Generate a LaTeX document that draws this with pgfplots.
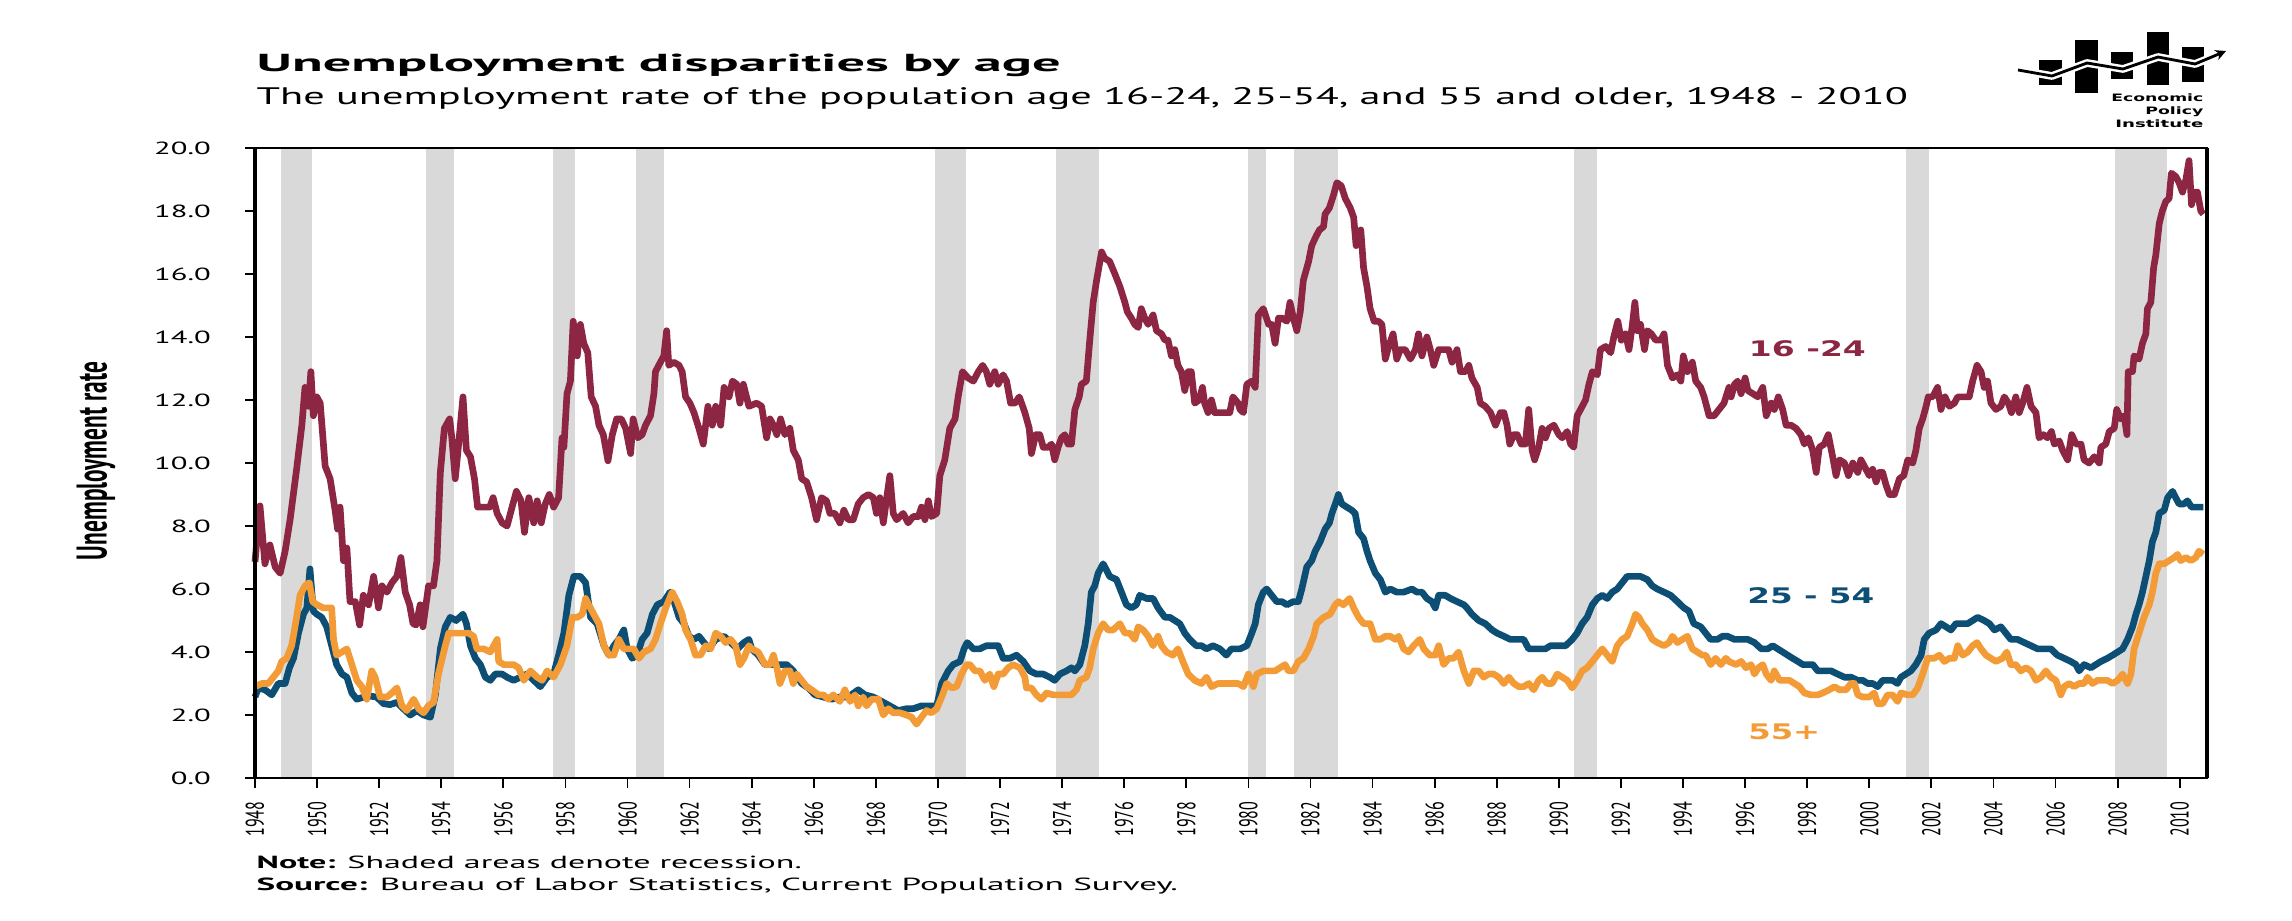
\documentclass[border=0pt]{standalone}
\usepackage{pgfplots}
\pgfplotsset{compat=1.18}
\usepackage{pgfplotstable}
\usetikzlibrary{arrows.meta}
\usepackage{fontspec}
\usepackage{graphicx}
\setmainfont{PT Sans}
\newfontfamily\dejavu{DejaVu Sans}
\definecolor{youth}{RGB}{140,38,66}
\definecolor{prime}{RGB}{12,78,116}
\definecolor{older}{RGB}{243,156,55}
\definecolor{recgray}{RGB}{217,217,217}
\newcommand\wide[2]{\resizebox{#1}{\height}{#2}}

\pgfplotstableread{
year val
1948.00 6.86
1948.16 8.64
1948.32 6.8
1948.48 7.4
1948.65 6.7
1948.81 6.5
1948.97 7.2
1949.13 8.2
1949.34 9.8
1949.51 11.2
1949.61 12.4
1949.72 11.8
1949.80 12.9
1949.88 11.5
1949.99 12.1
1950.10 11.9
1950.26 9.9
1950.42 9.5
1950.58 8.5
1950.66 7.9
1950.74 8.6
1950.85 6.9
1950.96 7.3
1951.06 5.6
1951.23 5.6
1951.37 4.86
1951.49 5.8
1951.66 5.5
1951.82 6.4
1951.98 5.4
1952.09 6.1
1952.25 5.9
1952.41 6.2
1952.57 6.4
1952.70 7.0
1952.84 5.9
1952.98 5.5
1953.09 4.9
1953.19 4.86
1953.32 5.5
1953.41 4.8
1953.59 6.1
1953.75 6.1
1953.86 6.9
1953.97 9.7
1954.10 11.1
1954.27 11.4
1954.34 10.8
1954.45 9.5
1954.56 10.6
1954.70 12.1
1954.81 10.4
1954.94 10.2
1955.07 9.5
1955.17 8.6
1955.37 8.6
1955.56 8.6
1955.67 8.9
1955.80 8.4
1955.96 8.1
1956.12 8.0
1956.28 8.6
1956.42 9.1
1956.57 8.8
1956.68 7.8
1956.82 8.9
1956.98 8.1
1957.09 8.8
1957.22 8.1
1957.35 8.7
1957.48 9.0
1957.62 8.6
1957.78 8.9
1957.89 10.8
1957.95 10.5
1958.05 12.2
1958.16 12.6
1958.25 14.5
1958.38 13.4
1958.48 14.4
1958.59 13.8
1958.72 13.5
1958.83 12.1
1958.97 11.8
1959.08 11.2
1959.22 10.9
1959.37 10.07
1959.51 10.9
1959.65 11.4
1959.80 11.4
1959.94 11.1
1960.10 10.3
1960.18 11.4
1960.33 10.8
1960.47 10.9
1960.58 11.2
1960.74 11.5
1960.85 12.2
1960.90 12.9
1961.06 13.2
1961.17 13.4
1961.26 14.2
1961.33 13.1
1961.49 13.2
1961.66 13.1
1961.76 12.9
1961.87 12.1
1962.01 11.9
1962.14 11.6
1962.30 11.1
1962.44 10.6
1962.59 11.8
1962.73 11.2
1962.84 11.8
1963.00 11.2
1963.11 12.4
1963.27 12.1
1963.38 12.6
1963.52 12.5
1963.62 11.9
1963.73 12.5
1963.91 11.8
1964.16 11.9
1964.32 11.8
1964.48 10.8
1964.59 11.4
1964.70 11.2
1964.81 10.9
1964.93 11.4
1965.07 10.9
1965.23 11.1
1965.34 10.4
1965.50 10.1
1965.61 9.5
1965.77 9.4
1965.93 8.9
1966.09 8.2
1966.25 8.9
1966.41 8.8
1966.52 8.4
1966.68 8.4
1966.84 8.1
1966.97 8.5
1967.11 8.2
1967.27 8.2
1967.43 8.7
1967.59 8.9
1967.76 9.0
1967.92 8.9
1968.02 8.4
1968.13 8.9
1968.24 8.1
1968.35 8.9
1968.45 9.6
1968.56 8.4
1968.67 8.2
1968.88 8.4
1969.04 8.1
1969.20 8.3
1969.37 8.3
1969.47 8.6
1969.58 8.2
1969.69 8.8
1969.79 8.3
1969.96 8.4
1970.06 9.6
1970.22 10.1
1970.38 11.1
1970.55 11.4
1970.65 12.1
1970.79 12.9
1970.97 12.7
1971.14 12.6
1971.30 12.9
1971.44 13.1
1971.56 12.9
1971.67 12.5
1971.83 12.9
1971.94 12.5
1972.10 12.8
1972.21 12.6
1972.34 11.9
1972.48 11.9
1972.62 12.1
1972.80 11.6
1972.94 11.1
1973.01 10.3
1973.15 10.9
1973.28 10.9
1973.39 10.5
1973.55 10.5
1973.66 10.6
1973.76 10.1
1973.87 10.5
1973.98 10.8
1974.09 10.9
1974.19 10.6
1974.30 10.6
1974.41 11.7
1974.55 12.1
1974.62 12.5
1974.78 12.6
1974.89 13.9
1975.00 15.1
1975.11 15.8
1975.27 16.7
1975.37 16.5
1975.53 16.4
1975.70 16.0
1975.86 15.6
1976.02 15.1
1976.10 14.8
1976.23 14.6
1976.34 14.4
1976.45 14.3
1976.55 14.9
1976.66 14.6
1976.77 14.4
1976.93 14.7
1977.04 14.2
1977.20 14.1
1977.31 13.9
1977.41 13.9
1977.52 13.4
1977.63 13.6
1977.73 13.1
1977.84 12.9
1977.95 12.3
1978.06 12.9
1978.16 12.9
1978.27 11.9
1978.41 12.0
1978.52 12.4
1978.59 11.9
1978.70 11.6
1978.81 12.0
1978.91 11.6
1979.08 11.6
1979.24 11.6
1979.40 11.6
1979.50 12.1
1979.67 11.9
1979.73 11.7
1979.84 11.6
1979.95 12.5
1980.11 12.6
1980.22 12.4
1980.32 14.7
1980.48 14.9
1980.65 14.4
1980.75 14.4
1980.86 13.8
1980.97 14.6
1981.08 14.6
1981.24 14.5
1981.34 15.1
1981.45 14.6
1981.56 14.2
1981.67 14.8
1981.77 15.8
1981.94 16.4
1982.04 16.9
1982.18 17.2
1982.29 17.4
1982.42 17.5
1982.47 17.9
1982.61 18.1
1982.74 18.5
1982.85 18.9
1982.99 18.8
1983.12 18.4
1983.28 18.1
1983.39 17.8
1983.47 16.9
1983.62 17.4
1983.71 16.2
1983.82 15.6
1983.92 14.9
1984.05 14.5
1984.19 14.5
1984.30 14.4
1984.41 13.3
1984.52 13.7
1984.66 14.1
1984.78 13.3
1984.89 13.6
1985.05 13.6
1985.22 13.3
1985.38 13.6
1985.48 14.1
1985.59 13.4
1985.75 14.0
1985.86 13.6
1985.97 13.1
1986.13 13.6
1986.29 13.6
1986.45 13.6
1986.56 13.2
1986.72 13.6
1986.83 12.9
1986.99 12.9
1987.10 13.1
1987.20 12.7
1987.37 12.4
1987.47 11.9
1987.63 11.8
1987.80 11.6
1987.96 11.2
1988.12 11.6
1988.23 11.6
1988.33 11.2
1988.42 10.6
1988.55 10.9
1988.66 10.9
1988.79 10.6
1988.92 10.6
1989.03 11.7
1989.14 10.4
1989.22 10.1
1989.35 10.5
1989.46 11.1
1989.57 10.8
1989.68 11.1
1989.84 11.2
1990.00 10.9
1990.11 10.8
1990.27 11.0
1990.38 10.6
1990.48 10.5
1990.59 11.5
1990.70 11.7
1990.86 12.0
1990.97 12.5
1991.08 12.9
1991.24 12.8
1991.34 13.6
1991.51 13.7
1991.67 13.5
1991.77 14.0
1991.90 14.5
1992.01 13.9
1992.15 14.1
1992.26 13.6
1992.37 14.4
1992.45 15.1
1992.53 14.2
1992.63 14.4
1992.76 13.6
1992.85 14.2
1992.98 14.1
1993.12 13.9
1993.28 13.9
1993.39 14.1
1993.50 13.1
1993.66 12.7
1993.82 12.8
1993.93 12.6
1994.01 13.4
1994.14 12.9
1994.30 13.2
1994.41 12.6
1994.57 12.4
1994.68 12.1
1994.84 11.5
1995.00 11.5
1995.16 11.7
1995.32 11.9
1995.48 12.4
1995.55 12.1
1995.66 12.5
1995.76 12.6
1995.87 12.2
1996.00 12.7
1996.09 12.3
1996.25 12.2
1996.41 12.1
1996.57 12.4
1996.68 11.5
1996.84 11.9
1996.94 11.7
1997.07 12.1
1997.21 11.7
1997.32 11.2
1997.48 11.2
1997.64 11.1
1997.80 10.9
1997.91 10.6
1998.04 10.8
1998.18 10.4
1998.29 9.7
1998.39 10.5
1998.55 10.6
1998.68 10.9
1998.82 10.2
1998.93 9.6
1999.04 10.1
1999.20 10.0
1999.33 9.6
1999.47 10.0
1999.63 9.7
1999.73 10.1
1999.84 9.9
2000.00 9.6
2000.11 9.8
2000.22 9.4
2000.32 9.7
2000.43 9.7
2000.54 9.3
2000.65 9.0
2000.81 9.0
2000.97 9.5
2001.11 9.6
2001.24 10.1
2001.40 10.0
2001.50 10.4
2001.61 11.1
2001.72 11.4
2001.83 11.8
2001.90 12.1
2002.04 12.1
2002.20 12.4
2002.31 11.7
2002.44 12.1
2002.58 11.8
2002.74 11.9
2002.85 12.1
2003.01 12.1
2003.22 12.1
2003.33 12.6
2003.47 13.1
2003.60 12.9
2003.70 12.4
2003.81 12.6
2003.92 11.9
2004.08 11.7
2004.24 11.8
2004.35 12.1
2004.48 11.9
2004.58 11.6
2004.72 12.1
2004.83 11.6
2004.94 11.9
2005.08 12.4
2005.21 11.8
2005.37 11.6
2005.47 10.8
2005.61 10.9
2005.74 10.8
2005.87 11.0
2005.96 10.6
2006.12 10.7
2006.23 10.4
2006.39 10.1
2006.52 10.9
2006.66 10.6
2006.82 10.6
2006.92 10.1
2007.08 10.0
2007.25 10.2
2007.41 10.0
2007.46 10.5
2007.62 10.6
2007.73 11.0
2007.89 11.1
2007.97 11.7
2008.10 11.4
2008.21 11.5
2008.30 10.9
2008.34 12.9
2008.48 12.9
2008.53 13.4
2008.69 13.3
2008.80 13.8
2008.91 14.1
2008.96 14.9
2009.07 15.1
2009.16 16.2
2009.23 16.6
2009.34 17.6
2009.44 18.0
2009.55 18.3
2009.66 18.4
2009.73 19.2
2009.87 19.1
2009.98 18.9
2010.09 18.6
2010.20 19.0
2010.30 19.6
2010.38 18.2
2010.46 18.6
2010.57 18.6
2010.68 18.0
2010.76 17.9
}\youthtab

\pgfplotstableread{
year val
1948.00 2.57
1948.11 2.86
1948.32 2.8
1948.54 2.64
1948.75 3.0
1948.97 3.0
1949.11 3.5
1949.24 3.8
1949.40 4.6
1949.56 5.2
1949.67 5.4
1949.77 6.64
1949.88 5.3
1949.99 5.2
1950.15 5.1
1950.31 4.8
1950.47 4.2
1950.63 3.6
1950.80 3.3
1950.96 3.2
1951.12 2.7
1951.28 2.5
1951.50 2.57
1951.71 2.6
1951.92 2.57
1952.14 2.36
1952.35 2.33
1952.57 2.4
1952.78 2.2
1953.00 2.0
1953.22 2.14
1953.43 2.0
1953.65 1.93
1953.81 2.64
1953.97 4.1
1954.13 4.8
1954.29 5.1
1954.48 5.0
1954.70 5.2
1954.81 4.9
1954.94 4.2
1955.10 3.8
1955.26 3.6
1955.42 3.2
1955.58 3.1
1955.74 3.3
1955.96 3.3
1956.12 3.2
1956.33 3.1
1956.55 3.2
1956.76 3.3
1956.98 3.1
1957.19 2.9
1957.41 3.2
1957.62 3.3
1957.78 3.9
1957.95 4.6
1958.11 5.8
1958.27 6.4
1958.48 6.4
1958.65 6.2
1958.81 5.1
1959.02 4.9
1959.24 4.2
1959.40 3.9
1959.56 4.2
1959.72 4.4
1959.88 4.7
1959.99 4.1
1960.15 3.8
1960.31 3.9
1960.47 4.4
1960.63 4.6
1960.80 5.2
1960.96 5.5
1961.17 5.6
1961.37 5.9
1961.50 5.6
1961.66 5.1
1961.82 4.9
1961.98 4.5
1962.14 4.4
1962.30 4.5
1962.46 4.3
1962.62 4.1
1962.84 4.4
1963.11 4.5
1963.32 4.3
1963.54 4.1
1963.75 4.3
1963.91 4.4
1964.00 4.1
1964.21 3.9
1964.43 3.6
1964.64 3.6
1964.86 3.6
1965.13 3.6
1965.34 3.4
1965.61 3.0
1965.82 2.86
1966.04 2.64
1966.31 2.57
1966.58 2.5
1966.84 2.57
1967.11 2.57
1967.43 2.8
1967.65 2.64
1967.92 2.57
1968.19 2.43
1968.45 2.29
1968.72 2.14
1968.99 2.2
1969.20 2.2
1969.47 2.29
1969.79 2.29
1969.96 2.29
1970.12 3.0
1970.33 3.4
1970.49 3.6
1970.71 3.7
1970.84 4.1
1970.94 4.3
1971.14 4.1
1971.35 4.1
1971.56 4.2
1971.78 4.2
1971.94 4.2
1972.10 3.8
1972.32 3.8
1972.53 3.9
1972.75 3.7
1972.96 3.4
1973.17 3.3
1973.39 3.3
1973.60 3.2
1973.76 3.1
1973.93 3.3
1974.14 3.4
1974.30 3.5
1974.41 3.4
1974.57 3.6
1974.73 4.2
1974.84 4.9
1974.94 5.9
1975.05 6.1
1975.16 6.5
1975.32 6.8
1975.43 6.6
1975.53 6.4
1975.75 6.3
1975.91 5.9
1976.07 5.5
1976.23 5.4
1976.39 5.5
1976.50 5.8
1976.72 5.7
1976.93 5.7
1977.09 5.4
1977.31 5.1
1977.47 5.1
1977.63 5.0
1977.79 4.9
1977.95 4.6
1978.11 4.4
1978.32 4.2
1978.49 4.2
1978.65 4.1
1978.86 4.2
1979.08 4.1
1979.29 3.9
1979.45 4.1
1979.67 4.1
1979.73 4.1
1979.95 4.2
1980.11 4.6
1980.22 4.9
1980.32 5.5
1980.48 5.9
1980.59 6.0
1980.75 5.8
1980.91 5.6
1981.08 5.6
1981.24 5.5
1981.45 5.6
1981.61 5.6
1981.72 6.0
1981.88 6.7
1982.04 6.9
1982.15 7.2
1982.31 7.5
1982.47 7.9
1982.61 8.1
1982.69 8.4
1982.80 8.7
1982.90 9.0
1983.01 8.7
1983.17 8.6
1983.33 8.5
1983.44 8.4
1983.55 7.8
1983.71 7.6
1983.82 7.2
1983.92 6.9
1984.09 6.5
1984.25 6.3
1984.41 5.9
1984.57 6.0
1984.78 5.9
1985.00 5.9
1985.27 6.0
1985.43 5.9
1985.59 5.9
1985.75 5.7
1985.91 5.6
1986.02 5.4
1986.13 5.8
1986.34 5.8
1986.51 5.7
1986.72 5.6
1986.94 5.5
1987.04 5.4
1987.20 5.2
1987.42 5.0
1987.63 4.9
1987.85 4.7
1988.01 4.6
1988.23 4.5
1988.44 4.4
1988.66 4.4
1988.87 4.4
1989.03 4.1
1989.19 4.1
1989.41 4.1
1989.57 4.1
1989.73 4.2
1990.00 4.2
1990.22 4.2
1990.43 4.4
1990.59 4.6
1990.75 4.9
1990.91 5.1
1991.08 5.5
1991.24 5.7
1991.40 5.8
1991.56 5.7
1991.72 5.9
1991.88 6.0
1992.04 6.2
1992.20 6.4
1992.42 6.4
1992.63 6.4
1992.85 6.3
1993.01 6.1
1993.17 6.0
1993.39 5.9
1993.60 5.8
1993.82 5.6
1994.03 5.4
1994.19 5.3
1994.35 4.9
1994.57 4.8
1994.73 4.6
1994.89 4.4
1995.11 4.4
1995.27 4.5
1995.43 4.5
1995.66 4.4
1995.87 4.4
1996.09 4.4
1996.30 4.3
1996.52 4.1
1996.73 4.1
1996.89 4.2
1997.05 4.1
1997.21 4.0
1997.37 3.9
1997.53 3.8
1997.70 3.7
1997.86 3.6
1998.02 3.6
1998.18 3.6
1998.34 3.4
1998.55 3.4
1998.77 3.4
1998.98 3.3
1999.20 3.2
1999.41 3.2
1999.63 3.1
1999.79 3.1
1999.95 3.0
2000.11 3.0
2000.27 2.9
2000.43 3.1
2000.59 3.1
2000.75 3.1
2000.91 3.0
2001.02 3.2
2001.18 3.3
2001.34 3.4
2001.50 3.6
2001.67 3.9
2001.77 4.4
2001.93 4.6
2002.15 4.7
2002.31 4.9
2002.47 4.8
2002.63 4.7
2002.79 4.9
2002.95 4.9
2003.17 4.9
2003.33 5.0
2003.49 5.1
2003.70 5.0
2003.87 4.9
2004.03 4.7
2004.24 4.8
2004.40 4.6
2004.56 4.4
2004.78 4.4
2004.99 4.3
2005.21 4.2
2005.42 4.1
2005.64 4.1
2005.85 4.1
2006.06 3.9
2006.28 3.8
2006.49 3.7
2006.66 3.6
2006.76 3.4
2006.92 3.6
2007.14 3.5
2007.30 3.6
2007.46 3.7
2007.67 3.8
2007.84 3.9
2008.00 4.0
2008.16 4.1
2008.32 4.4
2008.48 4.8
2008.59 5.2
2008.69 5.5
2008.80 5.9
2008.91 6.4
2009.02 6.9
2009.12 7.5
2009.23 7.8
2009.34 8.4
2009.50 8.5
2009.61 8.9
2009.77 9.1
2009.87 8.9
2009.98 8.7
2010.14 8.7
2010.25 8.8
2010.38 8.6
2010.52 8.6
2010.68 8.6
2010.76 8.6
}\primetab

\pgfplotstableread{
year val
1948.00 2.9
1948.22 3.0
1948.43 3.0
1948.59 3.2
1948.75 3.4
1948.86 3.7
1949.02 3.8
1949.18 4.2
1949.34 5.1
1949.45 5.8
1949.61 6.1
1949.75 6.2
1949.86 5.6
1949.99 5.5
1950.20 5.4
1950.37 5.4
1950.47 5.4
1950.53 4.4
1950.63 3.9
1950.80 4.0
1950.96 4.1
1951.12 3.6
1951.28 3.1
1951.44 2.9
1951.60 2.5
1951.76 3.4
1951.87 3.2
1952.03 2.57
1952.25 2.57
1952.41 2.7
1952.57 2.86
1952.73 2.3
1952.89 2.14
1953.11 2.5
1953.27 2.2
1953.43 2.07
1953.59 2.3
1953.75 2.4
1953.91 3.3
1954.13 4.2
1954.24 4.6
1954.51 4.6
1954.72 4.6
1954.88 4.6
1955.04 4.5
1955.15 4.1
1955.37 4.1
1955.58 4.0
1955.80 4.4
1955.85 3.7
1956.01 3.6
1956.17 3.6
1956.33 3.6
1956.49 3.5
1956.66 3.1
1956.87 3.4
1957.09 3.2
1957.25 3.1
1957.41 3.4
1957.62 3.2
1957.84 3.6
1958.05 4.2
1958.22 5.1
1958.38 5.1
1958.54 5.2
1958.65 5.7
1958.75 5.5
1958.91 5.2
1959.08 4.9
1959.24 4.2
1959.40 3.9
1959.56 3.9
1959.72 4.4
1959.88 4.1
1960.04 4.1
1960.20 4.1
1960.37 3.8
1960.53 4.0
1960.74 4.1
1960.90 4.4
1961.06 4.9
1961.23 5.4
1961.44 5.9
1961.60 5.6
1961.76 5.2
1961.87 4.7
1962.03 4.4
1962.19 3.9
1962.35 3.9
1962.52 4.2
1962.68 4.1
1962.84 4.6
1963.00 4.5
1963.16 4.3
1963.32 4.4
1963.48 4.2
1963.62 3.6
1963.75 3.8
1963.91 4.2
1964.00 4.1
1964.21 4.0
1964.43 3.6
1964.59 3.6
1964.70 3.9
1964.81 3.5
1964.91 3.0
1965.07 3.4
1965.23 3.4
1965.34 3.0
1965.45 3.3
1965.61 3.1
1965.77 2.9
1965.93 2.8
1966.15 2.64
1966.31 2.64
1966.47 2.5
1966.63 2.64
1966.84 2.43
1967.00 2.8
1967.17 2.43
1967.33 2.64
1967.43 2.29
1967.59 2.57
1967.70 2.29
1967.86 2.5
1968.08 2.5
1968.24 2.0
1968.40 2.2
1968.56 2.07
1968.77 2.07
1968.99 2.0
1969.15 1.93
1969.31 1.71
1969.47 1.93
1969.63 2.14
1969.79 2.07
1969.96 2.2
1970.12 2.57
1970.28 3.0
1970.44 2.86
1970.60 2.9
1970.76 3.3
1970.92 3.6
1971.03 3.6
1971.19 3.4
1971.35 3.4
1971.51 3.1
1971.67 3.3
1971.80 2.9
1971.94 3.3
1972.10 3.3
1972.26 3.5
1972.42 3.6
1972.64 3.5
1972.80 3.2
1972.85 2.86
1973.01 2.86
1973.17 2.64
1973.33 2.5
1973.50 2.7
1973.71 2.64
1973.92 2.64
1974.14 2.64
1974.30 2.64
1974.46 2.8
1974.57 3.1
1974.78 3.2
1974.89 3.5
1975.00 4.1
1975.16 4.6
1975.32 4.9
1975.48 4.7
1975.64 4.7
1975.86 4.9
1976.02 4.6
1976.18 4.6
1976.34 4.4
1976.45 4.8
1976.61 4.7
1976.77 4.5
1976.93 4.2
1977.09 4.5
1977.20 4.2
1977.36 4.0
1977.57 3.9
1977.73 4.1
1977.89 3.7
1978.06 3.3
1978.27 3.1
1978.49 3.0
1978.65 3.2
1978.81 2.9
1979.02 3.0
1979.24 3.0
1979.45 3.0
1979.67 3.0
1979.84 2.9
1980.00 3.3
1980.16 2.9
1980.27 3.3
1980.48 3.4
1980.70 3.4
1980.86 3.4
1981.02 3.5
1981.18 3.6
1981.29 3.4
1981.45 3.4
1981.61 3.7
1981.77 3.8
1981.94 4.1
1982.10 4.5
1982.20 4.9
1982.42 5.1
1982.63 5.2
1982.80 5.5
1982.90 5.6
1983.06 5.5
1983.26 5.7
1983.39 5.4
1983.55 5.1
1983.71 4.9
1983.92 4.9
1984.09 4.4
1984.25 4.4
1984.41 4.5
1984.57 4.5
1984.73 4.4
1984.84 4.5
1985.00 4.1
1985.16 4.0
1985.32 4.2
1985.52 4.4
1985.65 4.1
1985.84 3.9
1986.02 3.9
1986.13 4.2
1986.29 3.6
1986.45 3.8
1986.61 3.8
1986.77 4.0
1986.94 3.4
1987.10 3.0
1987.26 3.4
1987.42 3.4
1987.58 3.2
1987.74 3.3
1987.90 3.3
1988.06 3.2
1988.23 3.0
1988.39 3.2
1988.55 3.0
1988.71 2.9
1988.87 2.9
1989.03 3.0
1989.19 2.8
1989.35 3.1
1989.46 3.2
1989.62 3.0
1989.78 3.0
1989.95 3.3
1990.11 3.2
1990.27 3.1
1990.43 2.86
1990.59 3.1
1990.75 3.4
1990.91 3.5
1991.08 3.7
1991.24 3.9
1991.40 4.1
1991.56 3.9
1991.72 3.7
1991.88 4.2
1992.04 4.4
1992.20 4.5
1992.37 4.9
1992.47 5.2
1992.58 5.1
1992.69 4.9
1992.85 4.7
1993.01 4.4
1993.17 4.3
1993.39 4.2
1993.55 4.3
1993.66 4.5
1993.82 4.3
1993.98 4.4
1994.14 4.5
1994.30 4.1
1994.46 4.0
1994.62 3.9
1994.73 3.9
1994.89 3.6
1995.05 3.8
1995.22 3.6
1995.38 3.8
1995.48 3.7
1995.71 3.6
1995.87 3.7
1996.03 3.5
1996.19 3.6
1996.30 3.3
1996.43 3.5
1996.57 3.6
1996.68 3.3
1996.84 3.1
1996.94 3.4
1997.11 3.1
1997.27 3.1
1997.43 3.1
1997.59 3.0
1997.75 2.9
1997.91 2.7
1998.12 2.64
1998.34 2.64
1998.50 2.7
1998.71 2.8
1998.88 2.9
1999.04 2.8
1999.25 2.8
1999.41 3.0
1999.52 3.0
1999.63 2.64
1999.79 2.57
2000.00 2.57
2000.16 2.7
2000.27 2.36
2000.43 2.36
2000.59 2.64
2000.75 2.64
2000.91 2.43
2001.02 2.7
2001.24 2.64
2001.40 2.64
2001.56 2.86
2001.72 3.3
2001.88 3.8
2002.09 3.8
2002.26 3.9
2002.42 3.7
2002.58 3.8
2002.74 3.8
2002.85 4.2
2003.01 3.9
2003.17 4.0
2003.33 4.2
2003.47 4.3
2003.60 4.1
2003.76 3.9
2003.92 3.8
2004.08 3.7
2004.29 3.8
2004.43 4.0
2004.56 3.6
2004.72 3.6
2004.88 3.4
2005.05 3.5
2005.21 3.4
2005.37 3.1
2005.53 3.2
2005.69 3.4
2005.85 3.2
2006.01 3.1
2006.17 2.64
2006.28 2.9
2006.44 3.0
2006.60 2.9
2006.76 3.0
2006.92 3.0
2007.03 3.2
2007.19 3.0
2007.35 3.1
2007.51 3.1
2007.67 3.1
2007.84 3.0
2008.00 3.1
2008.16 3.3
2008.32 3.0
2008.43 3.3
2008.53 4.1
2008.69 4.6
2008.85 5.1
2009.02 5.5
2009.12 5.9
2009.23 6.5
2009.34 6.8
2009.50 6.8
2009.66 6.9
2009.82 7.0
2009.93 7.1
2010.03 6.9
2010.20 7.0
2010.36 6.9
2010.52 7.0
2010.62 7.2
2010.76 7.1
}\oldertab

\begin{document}
\begin{tikzpicture}
\useasboundingbox (0,0) rectangle (22.92,9.2);
\begin{axis}[
  at={(2.55cm,1.42cm)}, anchor=south west,
  scale only axis, width=19.52cm, height=6.30cm,
  xmin=1948, xmax=2010.88, ymin=0, ymax=20,
  axis on top,
  axis line style={black, line width=0.5pt},
  tick align=outside, xtick pos=bottom, ytick pos=left,
  major tick length=0.1cm,
  tick style={black, line width=0.5pt},
  xtick={1948,1950,...,2010},
  xticklabel={\resizebox{0.35cm}{\height}{\pgfmathprintnumber[1000 sep={},fixed,precision=0,assume math mode=true]{\tick}}},
  ytick={0,2,...,20},
  yticklabels={0.0,2.0,4.0,6.0,8.0,10.0,12.0,14.0,16.0,18.0,20.0},
  xticklabel style={rotate=90, anchor=east, inner sep=0pt, font=\fontsize{7.3}{8}\selectfont},
  yticklabel style={anchor=east, inner sep=0pt, xscale=1.74, font=\fontsize{5}{6}\selectfont},
  xticklabel shift=0.13cm,
  yticklabel shift=0.33cm,
  clip=false,
]
\pgfplotsset{rec/.style={fill=recgray, draw=none, forget plot}}
\addplot[rec] coordinates {(1948.83,20) (1949.83,20)} \closedcycle;
\addplot[rec] coordinates {(1953.50,20) (1954.42,20)} \closedcycle;
\addplot[rec] coordinates {(1957.59,20) (1958.32,20)} \closedcycle;
\addplot[rec] coordinates {(1960.26,20) (1961.17,20)} \closedcycle;
\addplot[rec] coordinates {(1969.90,20) (1970.90,20)} \closedcycle;
\addplot[rec] coordinates {(1973.80,20) (1975.20,20)} \closedcycle;
\addplot[rec] coordinates {(1980.00,20) (1980.57,20)} \closedcycle;
\addplot[rec] coordinates {(1981.48,20) (1982.88,20)} \closedcycle;
\addplot[rec] coordinates {(1990.50,20) (1991.24,20)} \closedcycle;
\addplot[rec] coordinates {(2001.18,20) (2001.93,20)} \closedcycle;
\addplot[rec] coordinates {(2007.91,20) (2009.58,20)} \closedcycle;

\addplot[youth, line width=1.9pt, line join=round] table[x=year,y=val]{\youthtab};
\addplot[prime, line width=1.9pt, line join=round] table[x=year,y=val]{\primetab};
\addplot[older, line width=1.9pt, line join=round] table[x=year,y=val]{\oldertab};

\draw[black, line width=1.2pt] (rel axis cs:0,0) -- (rel axis cs:0,1);
\draw[black, line width=0.9pt] (rel axis cs:1,0) -- (rel axis cs:1,1);

\node[anchor=west, inner sep=0pt, text=youth] at (axis cs:1996.1,13.64) {\wide{1.17cm}{\dejavu\bfseries\fontsize{6.1}{7}\selectfont 16 -24}};
\node[anchor=west, inner sep=0pt, text=prime] at (axis cs:1996.05,5.79) {\wide{1.27cm}{\dejavu\bfseries\fontsize{6.1}{7}\selectfont 25 - 54}};
\node[anchor=west, inner sep=0pt, text=older] at (axis cs:1996.08,1.47) {\wide{0.72cm}{\dejavu\bfseries\fontsize{6.1}{7}\selectfont 55+}};
\end{axis}

% titles
\node[anchor=base west, inner sep=0pt] at (2.56,8.48) {\wide{8.04cm}{\bfseries\fontsize{7}{8}\selectfont Unemployment disparities by age}};
\node[anchor=base west, inner sep=0pt] at (2.56,8.16) {\wide{16.51cm}{\fontsize{6.8}{8}\selectfont The unemployment rate of the population age 16-24, 25-54, and 55 and older, 1948 - 2010}};

% y label
\node[rotate=90, inner sep=0pt] at (0.96,4.59) {\wide{1.98cm}{\bfseries\fontsize{12.2}{14}\selectfont Unemployment rate}};

% footer
\node[anchor=base west, inner sep=0pt] at (2.56,0.52) {\wide{5.45cm}{\fontsize{5}{6}\selectfont\textbf{Note:} Shaded areas denote recession.}};
\node[anchor=base west, inner sep=0pt] at (2.56,0.30) {\wide{9.21cm}{\fontsize{5}{6}\selectfont\textbf{Source:} Bureau of Labor Statistics, Current Population Survey.}};

% logo
\fill[black] (20.39,8.35) rectangle (20.62,8.60);
\fill[black] (20.75,8.27) rectangle (20.98,8.80);
\fill[black] (21.11,8.41) rectangle (21.33,8.68);
\fill[black] (21.47,8.35) rectangle (21.69,8.88);
\fill[black] (21.82,8.38) rectangle (22.04,8.73);
\draw[white, line width=2.2pt, line join=round] (20.18,8.50) -- (20.52,8.44) -- (20.87,8.57) -- (21.23,8.51) -- (21.58,8.63) -- (21.95,8.56) -- (22.20,8.66);
\draw[black, line width=0.8pt, line join=round, -{Stealth[length=3pt,width=3pt]}] (20.18,8.50) -- (20.52,8.44) -- (20.87,8.57) -- (21.23,8.51) -- (21.58,8.63) -- (21.95,8.56) -- (22.26,8.69);
\node[anchor=base east, inner sep=0pt] at (22.04,8.18) {\wide{0.92cm}{\dejavu\bfseries\fontsize{2.9}{3}\selectfont Economic}};
\node[anchor=base east, inner sep=0pt] at (22.04,8.05) {\wide{0.58cm}{\dejavu\bfseries\fontsize{2.9}{3}\selectfont Policy}};
\node[anchor=base east, inner sep=0pt] at (22.04,7.92) {\wide{0.88cm}{\dejavu\bfseries\fontsize{2.9}{3}\selectfont Institute}};
\end{tikzpicture}
\end{document}
